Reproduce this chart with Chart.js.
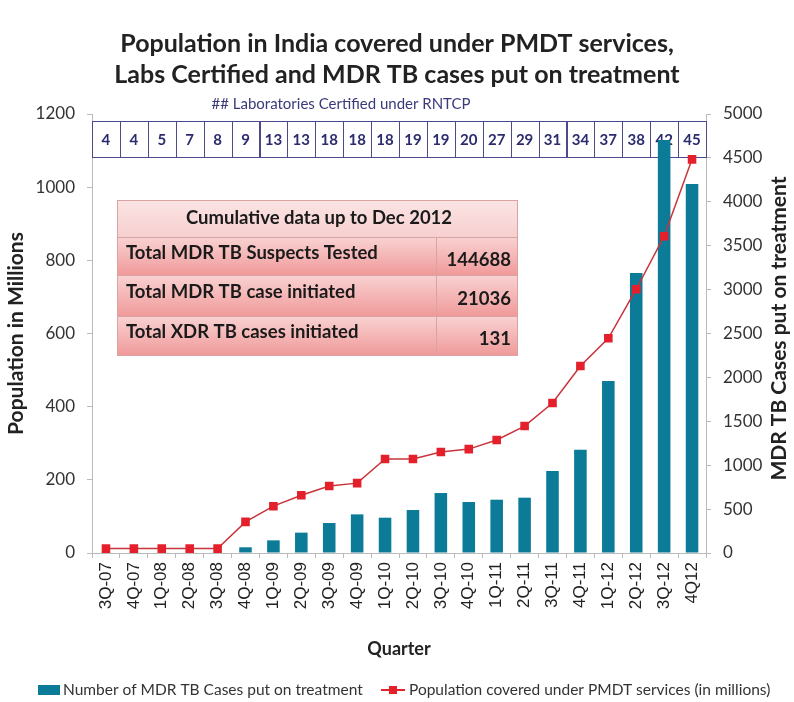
<!DOCTYPE html>
<html>
<head>
<meta charset="utf-8">
<script src="https://cdn.jsdelivr.net/npm/chart.js@4.4.1/dist/chart.umd.min.js"></script>
<style>
  html, body { margin: 0; padding: 0; background: #fff; }
  #wrap { width: 794px; height: 702px; }
</style>
</head>
<body>
<div id="wrap"><canvas id="chart"></canvas></div>
<script>
const quarters = ['3Q-07','4Q-07','1Q-08','2Q-08','3Q-08','4Q-08','1Q-09','2Q-09','3Q-09','4Q-09',
  '1Q-10','2Q-10','3Q-10','4Q-10','1Q-11','2Q-11','3Q-11','4Q-11','1Q-12','2Q-12','3Q-12','4Q12'];
const mdrCases = [0,0,0,0,0,65,144,232,342,440,402,490,683,581,607,630,934,1177,1959,3189,4704,4203];
const population = [12,12,12,12,12,85,128,158,183,191,257,257,276,284,309,347,410,511,587,721,866,1076];
const labsCertified = [4,4,5,7,8,9,13,13,18,18,18,19,19,20,27,29,31,34,37,38,42,45];
const summaryLabels = ['Total MDR TB Suspects Tested','Total MDR TB case initiated','Total XDR TB cases initiated'];
const summaryValues = ['144688','21036','131'];

const FONT = 'Lato, "Open Sans", sans-serif';
const TEAL = '#0b7b98';
const RED = '#e3202b';

const decor = {
  id: 'decor',
  beforeDatasetsDraw(chart) {
    const {ctx, chartArea: ca, scales: {x}} = chart;
    ctx.save();
    // labs certified strip
    const bt = ca.top + 7, bh = 36;
    ctx.fillStyle = '#fff';
    ctx.fillRect(ca.left + 1, bt, ca.right - ca.left - 1, bh);
    ctx.strokeStyle = '#4a4a8c';
    ctx.lineWidth = 1;
    ctx.font = 'bold 15px ' + FONT;
    ctx.textAlign = 'center';
    ctx.textBaseline = 'middle';
    const w = x.getPixelForValue(1) - x.getPixelForValue(0);
    labsCertified.forEach((v, i) => {
      const cx = x.getPixelForValue(i);
      ctx.strokeRect(Math.round(cx - w / 2) + 0.5, bt + 0.5, Math.round(w), bh);
      ctx.fillStyle = '#2b2b6e';
      ctx.fillText(String(v), cx, bt + bh / 2 + 1);
    });
    ctx.font = '15px ' + FONT;
    ctx.fillStyle = '#3a3a7a';
    ctx.fillText('## Laboratories Certified under RNTCP', ca.left + 249, ca.top - 10);

    // summary table
    const tl = ca.left + 25, tr = ca.left + 425, split = ca.left + 344;
    const rows = [ca.top + 86, ca.top + 123, ca.top + 161, ca.top + 202, ca.top + 241];
    for (let r = 0; r < 4; r++) {
      const g = ctx.createLinearGradient(0, rows[r], 0, rows[r + 1]);
      if (r === 0) { g.addColorStop(0, '#fbe4e4'); g.addColorStop(1, '#f7cfcf'); }
      else { g.addColorStop(0, '#f9d2d2'); g.addColorStop(1, '#f09a9a'); }
      ctx.fillStyle = g;
      ctx.fillRect(tl, rows[r], tr - tl, rows[r + 1] - rows[r]);
    }
    ctx.strokeStyle = '#d9a3a3';
    ctx.strokeRect(tl + 0.5, rows[0] + 0.5, tr - tl, rows[4] - rows[0]);
    for (let r = 1; r < 4; r++) {
      ctx.beginPath(); ctx.moveTo(tl, rows[r] + 0.5); ctx.lineTo(tr, rows[r] + 0.5); ctx.stroke();
    }
    ctx.beginPath(); ctx.moveTo(split + 0.5, rows[1]); ctx.lineTo(split + 0.5, rows[4]); ctx.stroke();
    ctx.fillStyle = '#1a1a1a';
    ctx.font = 'bold 18.5px ' + FONT;
    ctx.textAlign = 'center';
    ctx.fillText('Cumulative data up to Dec 2012', (tl + tr) / 2 + 2, (rows[0] + rows[1]) / 2);
    summaryLabels.forEach((t, i) => {
      ctx.textAlign = 'left';
      ctx.fillText(t, tl + 9, (rows[i + 1] + rows[i + 2]) / 2 - 3);
      ctx.textAlign = 'right';
      ctx.fillText(summaryValues[i], tr - 6, (rows[i + 1] + rows[i + 2]) / 2 + 4);
    });
    ctx.restore();
  },
  afterDraw(chart) {
    const {ctx, chartArea: ca} = chart;
    ctx.save();
    ctx.fillStyle = '#222';
    ctx.textAlign = 'center';
    ctx.textBaseline = 'middle';
    ctx.font = 'bold 25px ' + FONT;
    ctx.fillText('Population in India covered under PMDT services,', 397, 44);
    ctx.fillText('Labs Certified and MDR TB cases put on treatment', 397, 75);
    // right axis title, reading bottom to top
    ctx.save();
    ctx.translate(779, (ca.top + ca.bottom) / 2 - 5);
    ctx.rotate(-Math.PI / 2);
    ctx.font = 'bold 21px ' + FONT;
    ctx.fillText('MDR TB Cases put on treatment', 0, 0);
    ctx.restore();
    // legend
    ctx.font = '15.5px ' + FONT;
    ctx.textAlign = 'left';
    ctx.fillStyle = TEAL;
    ctx.fillRect(38, 685, 22, 10);
    ctx.fillStyle = '#333';
    ctx.fillText(chart.data.datasets[0].label, 63, 690);
    ctx.strokeStyle = RED;
    ctx.lineWidth = 2;
    ctx.beginPath(); ctx.moveTo(381, 690); ctx.lineTo(405, 690); ctx.stroke();
    ctx.fillStyle = RED;
    ctx.fillRect(389, 686, 8, 8);
    ctx.fillStyle = '#333';
    ctx.fillText(chart.data.datasets[1].label, 409, 690);
    ctx.restore();
  }
};

new Chart(document.getElementById('chart'), {
  type: 'bar',
  data: {
    labels: quarters,
    datasets: [{
      type: 'bar',
      label: 'Number of MDR TB Cases put on treatment',
      data: mdrCases,
      yAxisID: 'y1',
      backgroundColor: TEAL,
      barPercentage: 0.5,
      categoryPercentage: 0.9,
      order: 2
    }, {
      type: 'line',
      label: 'Population covered under PMDT services (in millions)',
      data: population,
      yAxisID: 'y',
      borderColor: '#c8343a',
      borderWidth: 1.5,
      pointStyle: 'rect',
      pointRadius: 5,
      pointBackgroundColor: RED,
      pointBorderColor: RED,
      tension: 0,
      order: 1
    }]
  },
  options: {
    responsive: true,
    maintainAspectRatio: false,
    animation: false,
    layout: { padding: { top: 114, bottom: 40, left: 0, right: 0 } },
    plugins: { legend: { display: false }, tooltip: { enabled: false } },
    scales: {
      x: {
        grid: { drawOnChartArea: false, tickLength: 5, color: '#bbb' },
        border: { color: '#bbb' },
        ticks: { maxRotation: 90, minRotation: 90, padding: 4, color: '#222',
          font: { family: '"Liberation Sans", Arial, sans-serif', size: 17 } },
        title: { display: true, text: 'Quarter', color: '#222', padding: { top: 0, bottom: 2 },
          font: { family: FONT, size: 18, weight: 'bold' } },
        afterFit(s) { s.height = 109; }
      },
      y: {
        position: 'left',
        min: 0, max: 1200,
        ticks: { stepSize: 200, padding: 12, color: '#333', font: { family: FONT, size: 17 },
          callback: v => String(v) },
        grid: { drawOnChartArea: false, tickLength: 5, color: '#bbb' },
        border: { color: '#bbb' },
        title: { display: true, text: 'Population in Millions', color: '#222', padding: { top: 4, bottom: 0 },
          font: { family: FONT, size: 21, weight: 'bold' } },
        afterFit(s) { s.width = 92; }
      },
      y1: {
        position: 'right',
        min: 0, max: 5000,
        ticks: { stepSize: 500, padding: 12, color: '#333', font: { family: FONT, size: 17 },
          callback: v => String(v) },
        grid: { drawOnChartArea: false, tickLength: 5, color: '#bbb' },
        border: { color: '#bbb' },
        title: { display: false },
        afterFit(s) { s.width = 88; }
      }
    }
  },
  plugins: [decor]
});
</script>
</body>
</html>
